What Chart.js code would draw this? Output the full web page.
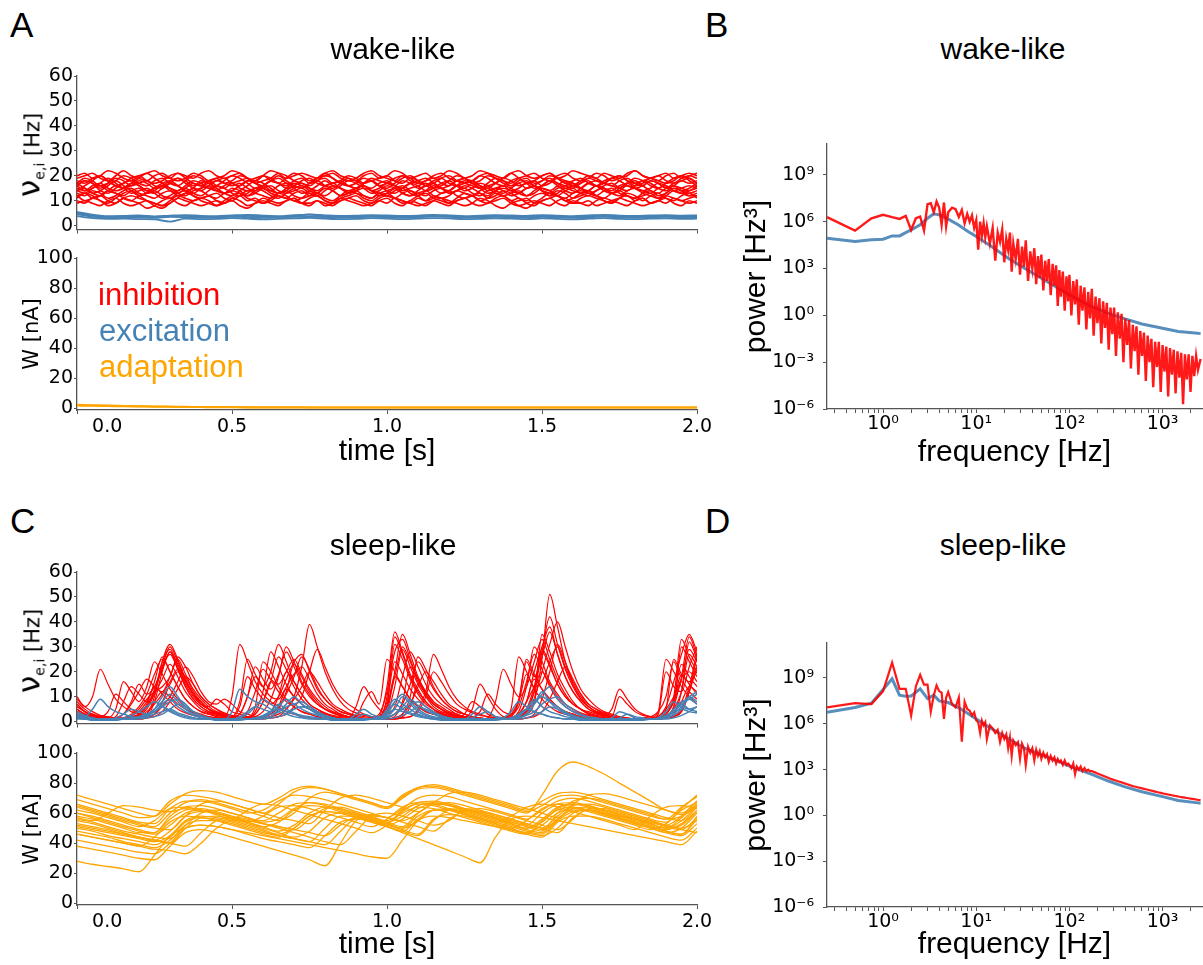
<!DOCTYPE html>
<html>
<head>
<meta charset="utf-8">
<script src="https://cdn.jsdelivr.net/npm/chart.js@4.4.1/dist/chart.umd.min.js"></script>
<style>
  body { margin: 0; background: #fff; }
  #fig { position: relative; width: 1203px; height: 965px; overflow: hidden; background: #fff;
         font-family: "Liberation Sans", Arial, sans-serif; color: #000; }
  canvas { position: absolute; }
  .txt { position: absolute; white-space: nowrap; font-size: 30px; line-height: 36px; }
  .leg { font-size: 31px; }
  .mid { transform: translateX(-50%); }
  .letter { position: absolute; font-size: 35px; line-height: 42px; }
  .ylab { position: absolute; white-space: nowrap; font-family: "DejaVu Sans"; font-size: 21px; line-height: 36px;
          transform: translate(-50%, -50%) rotate(-90deg); }
</style>
</head>
<body>
<div id="fig">
  <canvas id="rateWake" width="715" height="182" style="left:0;top:60px"></canvas>
  <canvas id="adaptWake" width="715" height="230" style="left:0;top:240px"></canvas>
  <canvas id="psdWake" width="491" height="351" style="left:712px;top:120px"></canvas>
  <canvas id="rateSleep" width="715" height="180" style="left:0;top:556px"></canvas>
  <canvas id="adaptSleep" width="715" height="228" style="left:0;top:735px"></canvas>
  <canvas id="psdSleep" width="491" height="343" style="left:712px;top:620px"></canvas>

  <div class="letter" style="left:10px;top:4px">A</div>
  <div class="letter" style="left:705px;top:4px">B</div>
  <div class="letter" style="left:10px;top:500px">C</div>
  <div class="letter" style="left:705px;top:500px">D</div>
  <div class="txt mid" style="left:393px;top:31px">wake-like</div>
  <div class="txt mid" style="left:1003px;top:31px">wake-like</div>
  <div class="txt mid" style="left:393px;top:527px">sleep-like</div>
  <div class="txt mid" style="left:1003px;top:527px">sleep-like</div>
  <div class="ylab" style="left:34px;top:155px"><span style="font-size:31px">ν</span><sub style="font-size:14px">e,i</sub> [Hz]</div>
  <div class="ylab" style="left:34px;top:651px"><span style="font-size:31px">ν</span><sub style="font-size:14px">e,i</sub> [Hz]</div>
  <div class="txt leg" style="left:98px;top:277px;color:#ff0000">inhibition</div>
  <div class="txt leg" style="left:99px;top:313px;color:#4682b4">excitation</div>
  <div class="txt leg" style="left:99px;top:349px;color:#ffa500">adaptation</div>
</div>
<script>
// time grids (s)
const times = [0,0.025,0.05,0.075,0.1,0.125,0.15,0.175,0.2,0.225,0.25,0.275,0.3,0.325,0.35,0.375,0.4,0.425,0.45,0.475,
  0.5,0.525,0.55,0.575,0.6,0.625,0.65,0.675,0.7,0.725,0.75,0.775,0.8,0.825,0.85,0.875,0.9,0.925,0.95,0.975,
  1,1.025,1.05,1.075,1.1,1.125,1.15,1.175,1.2,1.225,1.25,1.275,1.3,1.325,1.35,1.375,1.4,1.425,1.45,1.475,
  1.5,1.525,1.55,1.575,1.6,1.625,1.65,1.675,1.7,1.725,1.75,1.775,1.8,1.825,1.85,1.875,1.9,1.925,1.95,1.975,2];
const timesCoarse = [0,0.05,0.1,0.15,0.2,0.25,0.3,0.35,0.4,0.45,0.5,0.55,0.6,0.65,0.7,0.75,0.8,0.85,0.9,0.95,
  1,1.05,1.1,1.15,1.2,1.25,1.3,1.35,1.4,1.45,1.5,1.55,1.6,1.65,1.7,1.75,1.8,1.85,1.9,1.95,2];
const timeTicks = [0, 0.5, 1, 1.5, 2];
const timeTickLabels = ['0.0', '0.5', '1.0', '1.5', '2.0'];
const rateTicks = [0, 10, 20, 30, 40, 50, 60];
const adaptTicks = [0, 20, 40, 60, 80, 100];

// wake-like: inhibitory rates (Hz), one row per neuron group
const wakeInh = [
  [19,20,21,19,18,20,22,20,19,18,20,21,19,18,19,21,20,18,19,20,22,21,19,18,20,19,17,19,21,20,18,19,20,21,19,18,19,21,22,20,19,18,20,19,17,18,20,21,19,18,19,20,22,21,19,18,17,19,20,21,19,18,20,21,19,18,19,21,20,18,19,20,22,20,19,18,20,21,19,20,21],
  [16,18,17,15,17,19,18,16,17,18,16,15,17,19,18,16,17,18,16,15,17,18,19,17,16,18,17,15,16,18,19,17,16,17,18,16,15,17,19,18,17,16,18,17,15,16,18,19,17,16,17,18,16,15,17,19,18,16,17,18,16,17,19,18,16,15,17,18,17,16,18,19,17,16,18,17,15,17,18,19,17],
  [15,14,16,17,15,14,15,17,16,14,15,16,14,13,15,17,16,15,14,16,17,15,14,15,16,14,13,15,17,16,15,14,16,17,15,14,15,16,14,15,17,16,14,15,16,17,15,13,14,16,15,17,16,14,15,16,14,15,17,16,14,13,15,16,17,15,14,16,15,14,16,17,15,14,15,17,16,14,15,16,15],
  [13,12,14,13,11,12,14,15,13,12,11,13,14,12,13,15,14,12,11,13,14,13,12,14,15,13,12,11,13,14,12,13,15,14,12,13,14,12,11,13,14,15,13,12,13,14,12,11,12,14,13,12,14,15,13,12,13,14,12,13,15,14,12,11,13,14,13,12,14,15,13,12,11,13,14,12,13,15,14,12,13],
  [12,10,11,12,10,9,11,12,11,10,9,8,10,12,11,10,11,12,10,9,11,12,10,11,9,10,12,11,10,9,11,12,10,9,10,11,12,10,9,11,12,11,10,9,11,10,12,11,9,10,11,12,10,9,11,12,10,11,9,8,10,11,12,10,9,11,12,11,10,9,11,12,10,11,9,10,12,11,10,11,12],
  [17,15,13,14,16,18,16,14,12,13,15,17,18,16,14,13,15,17,15,13,12,14,16,18,17,15,13,14,16,17,15,13,12,14,16,18,17,15,13,14,16,15,13,12,14,16,17,15,14,16,18,17,15,13,14,16,15,13,12,14,16,18,16,14,13,15,17,16,14,13,15,17,18,16,14,13,15,16,14,15,17],
  [14,16,18,20,18,16,15,17,19,21,19,17,15,14,16,18,17,15,16,18,20,19,17,15,16,18,20,18,16,15,17,19,21,19,17,16,15,17,18,16,15,17,19,20,18,16,15,16,18,20,19,17,15,16,17,19,21,19,17,15,16,18,17,15,16,18,20,19,17,16,15,17,19,18,16,15,17,19,20,18,16],
  [11,13,12,10,9,11,13,14,12,10,8,7,9,11,13,12,10,9,8,10,12,13,11,10,9,11,13,12,10,11,13,12,10,9,11,12,13,11,10,12,13,11,9,10,12,13,11,10,9,11,13,12,10,11,13,12,10,8,7,9,11,13,12,10,11,13,14,12,10,9,11,13,12,10,12,13,11,10,12,13,11],
  [18,17,19,20,18,16,17,19,20,18,17,18,20,21,19,17,16,18,19,17,18,20,19,17,18,19,21,20,18,17,16,18,19,17,18,20,19,17,18,19,20,18,17,19,18,16,17,19,20,18,17,18,20,19,17,16,18,19,17,18,20,21,19,17,18,19,17,16,18,19,20,18,17,18,19,20,18,17,19,20,19],
  [14,15,13,12,14,16,15,13,14,15,13,11,12,14,15,13,12,14,16,15,13,12,13,15,14,12,11,13,15,16,14,13,15,14,12,13,15,16,14,13,12,14,15,13,12,14,16,15,13,14,15,13,12,14,15,14,12,13,15,16,14,12,13,15,14,13,12,14,15,13,14,16,15,13,12,11,13,15,14,13,14],
  [10,9,11,10,8,9,11,10,9,7,8,10,11,9,8,10,11,10,8,9,10,8,7,9,11,10,9,10,11,9,8,10,9,8,10,11,10,9,8,10,11,9,8,10,9,8,10,11,10,9,8,9,11,10,8,7,9,10,11,9,10,11,9,8,10,9,8,10,11,10,9,8,10,11,9,10,11,9,8,10,9],
  [16,14,15,17,19,17,15,16,18,17,15,16,18,19,17,15,14,16,18,17,16,17,15,14,16,18,19,17,16,15,17,18,16,15,17,19,18,16,15,17,18,16,15,17,18,19,17,15,16,18,17,16,15,17,19,18,16,17,15,16,18,19,17,16,15,17,18,16,17,19,18,16,15,16,18,17,15,16,18,17,18],
  [14,13,15,16,14,13,12,14,15,13,14,16,15,13,12,14,15,16,14,13,15,14,12,13,15,16,14,13,14,15,13,12,14,16,15,13,14,15,14,12,13,15,16,14,13,12,14,15,13,14,16,15,13,12,14,15,14,13,15,16,14,13,12,14,15,13,14,16,15,13,12,14,15,14,13,15,16,14,13,14,15],
  [17,19,18,16,17,18,20,19,17,16,18,19,17,16,18,20,19,17,18,19,17,16,18,19,20,18,17,16,18,19,17,18,20,19,17,16,17,19,18,16,17,19,20,18,17,18,19,17,16,18,19,17,18,20,19,17,16,18,19,17,18,20,19,17,16,17,19,18,17,19,20,18,16,17,19,18,17,18,20,19,17],
  [12,13,11,12,14,13,11,10,12,13,14,12,11,13,14,12,11,12,13,11,10,12,14,13,12,11,13,14,12,11,12,13,11,10,12,14,13,12,11,13,12,11,13,14,12,10,11,13,14,12,11,12,13,11,12,14,13,11,10,12,13,12,14,13,11,12,13,12,11,13,14,12,11,12,13,11,12,14,13,12,12],
  [16,18,17,14,13,15,17,18,16,14,13,15,17,16,14,15,18,17,15,13,14,16,18,17,15,14,16,17,15,13,14,16,18,16,15,13,14,17,18,16,14,13,15,17,16,14,15,17,18,16,14,15,17,16,14,13,15,17,18,16,15,14,16,18,17,15,13,14,16,17,15,14,16,18,17,15,14,16,15,14,16],
  [20,21,19,20,22,21,19,18,20,21,22,20,19,21,20,19,21,22,20,19,20,21,19,18,20,22,21,19,20,21,20,19,21,22,20,19,18,20,21,19,20,22,21,19,20,21,19,20,22,21,19,18,20,21,20,19,21,22,20,19,20,21,19,20,22,21,20,19,21,20,19,21,22,20,19,20,21,19,20,21,20],
  [9,10,9,8,10,11,9,8,9,10,9,8,9,11,10,9,8,9,10,9,11,10,8,9,10,9,8,10,11,9,9,10,8,9,11,10,9,8,9,10,9,11,10,9,8,9,10,9,8,10,11,9,8,9,10,11,9,8,9,10,9,8,10,11,9,9,10,8,9,10,11,10,9,8,9,10,9,11,10,9,10]
];
// wake-like: excitatory rates (Hz), coarse grid
const wakeExc = [
  [5.5,4.4,3.8,3.9,4.1,3.7,4.0,4.2,3.9,3.8,4.1,4.3,4.0,3.8,4.2,4.4,4.1,3.9,4.0,4.2,4.1,3.9,4.0,4.3,4.1,3.8,4.0,4.2,4.1,3.9,4.2,4.0,3.8,4.1,4.3,4.0,3.9,4.1,4.2,4.0,4.1],
  [4.5,3.6,3.2,3.4,3.3,3.1,3.5,3.4,3.2,3.3,3.6,3.4,3.1,3.3,3.5,3.7,3.4,3.2,3.3,3.6,3.4,3.2,3.4,3.7,3.5,3.2,3.3,3.5,3.4,3.2,3.5,3.3,3.1,3.4,3.6,3.3,3.2,3.4,3.5,3.3,3.4],
  [3.8,3.0,2.7,2.8,2.6,2.5,1.6,2.8,2.6,2.7,3.0,2.8,2.5,2.7,2.9,3.1,2.8,2.6,2.7,3.0,2.8,2.6,2.8,3.0,2.9,2.6,2.7,2.9,2.8,2.6,2.9,2.7,2.5,2.8,3.0,2.7,2.6,2.8,2.9,2.7,2.8],
  [5.0,4.0,3.5,3.6,3.7,3.4,3.8,3.9,3.6,3.5,3.7,3.9,3.6,3.5,3.8,4.5,3.8,3.6,3.7,3.9,3.8,3.5,3.7,3.9,3.8,3.5,3.6,3.9,3.8,3.5,3.8,3.7,3.4,3.7,3.9,3.6,3.5,3.7,3.8,3.6,3.7]
];
// wake-like: adaptation W (nA), coarse grid
const wakeAdapt = [
  [2.2,1.9,1.6,1.4,1.2,1.0,0.9,0.8,0.7,0.6,0.6,0.5,0.5,0.5,0.5,0.4,0.4,0.4,0.4,0.4,0.4,0.4,0.4,0.4,0.4,0.4,0.4,0.4,0.4,0.4,0.4,0.4,0.4,0.4,0.4,0.4,0.4,0.4,0.4,0.4,0.4],
  [1.6,1.5,1.3,1.1,1.0,0.9,0.8,0.7,0.6,0.5,0.5,0.4,0.4,0.3,0.3,0.3,0.3,0.3,0.3,0.3,0.3,0.3,0.3,0.3,0.3,0.3,0.3,0.3,0.3,0.3,0.3,0.3,0.3,0.3,0.3,0.3,0.3,0.3,0.3,0.3,0.3]
];

// sleep-like: inhibitory rates (Hz)
const sleepInh = [
  [8,5,3,2,1.5,1,1,1,1.5,3,10,24,31,25,17,11,7,5,3,2,1.5,1,1,1,2,4,10,20,16,11,7,5,3,2,1.5,1,1,1,1,2,14,36,28,19,13,8,5,3,2,1.5,1,1,1,1,1,1,1.5,2,4,8,25,51,38,24,15,9,6,4,2.5,2,1.5,1,1,1,1,1,2,6,30,24,18],
  [10,6,10,21,15,9,6,4,3,2,8,20,28,21,14,9,6,4,3,2,10,31,24,16,11,8,6,4,3,2,1.5,1,1,1,1,1,1,1,1.5,2,6,18,30,24,16,11,7,5,3,2,1.5,1,1,1,1,1,1.5,2,3,8,35,28,19,13,8,5,4,3,2,1.5,1,1,1,1,1,1,1.5,2,4,12,22],
  [6,4,2.5,2,1.5,1,1,2,5,9,12,14,18,26,22,15,10,7,5,3,2,1.5,1,1,1,1.5,2,5,10,22,39,30,20,13,8,5,3.5,2.5,2,1.5,1,1.5,3,10,26,21,14,9,6,4,3,2,1.5,1,1,1,1.5,4,14,30,24,16,11,7,5,3,2,1.5,1,1,1,1,1,1,1.5,4,25,20,14,10,7],
  [5,3,2,1.5,1,2,8,14,11,8,12,24,29,22,15,10,7,6,9,7,4,3,2,6,24,20,14,9,6,4,3,2,1.5,1,1,1,1,1,1.5,3,12,28,33,25,17,11,7,5,3,2,1.5,5,15,10,5,2,1.5,2,5,14,28,22,15,10,7,5,3,2,1.5,1,1,1,1,1,1,1.5,2,5,12,27,22],
  [7,4,2.5,2,1.5,5,16,12,8,14,24,19,13,9,6,4,3,2,1.5,1,1,1,1.5,3,8,16,26,21,14,9,6,4,3,2,1.5,1,6,14,9,5,3,6,18,28,22,15,10,7,5,3,2,1.5,1,1,1,1,1.5,3,8,20,30,38,27,18,12,8,5,3.5,2.5,5,13,9,5,3,2,1.5,2,6,18,34,26],
  [4,2.5,2,1.5,1,1,1,1,2,4,7,11,16,21,18,12,8,5,3.5,2.5,2,3,10,18,14,10,9,14,19,22,17,11,7,5,3,2,1.5,1,1,1,1,1.5,3,7,14,20,16,11,7,5,3,2,1.5,1,1,1.5,5,26,20,13,9,6,4,3,2,1.5,1,1,1,1,1,1,1,1.5,2,4,10,24,18,20,16],
  [3,2,1.5,1,1,1.5,3,7,12,17,14,12,18,25,19,13,9,6,4,3,2,1.5,1.5,4,12,28,22,15,10,7,5,3.5,2.5,2,1.5,1,1,1,1,1.5,8,24,19,13,9,6,4,3,2,1.5,1,1,1,1.5,8,21,15,10,14,24,33,25,17,11,7,5,3.5,2.5,2,1.5,1,1,1,1,1,3,20,14,12,22,30],
  [2,1.5,1,1,1,1,1,1,1.5,3,8,12,10,7,5,3.5,2.5,2,1.5,1,1,1,1,1.5,2,3,6,13,10,7,5,3.5,2.5,2,1.5,1,1,1,1,1,1,1.5,2,6,15,12,8,6,4,3,2,1.5,1,1,1,1,1.5,3,8,17,13,9,6,4,3,2,1.5,1,1,1,1,1,1,1,1,1.5,2,4,8,14,12],
  [9,6,4,2.5,2,1.5,1.5,2,3,6,12,22,30,24,17,11,8,5,3.5,2.5,2,8,25,19,14,20,31,24,16,11,7,5,3.5,2.5,2,1.5,1,1,1,1.5,4,20,35,27,18,12,8,5,3.5,2.5,2,1.5,1,1,1,1,1.5,2,5,12,28,42,31,21,14,9,6,4,3,2,1.5,1,1,1,1,1.5,3,10,33,26,20],
  [5,3,2,1.5,1,1,1,1,1.5,2,3,6,10,16,22,18,12,8,7,9,7,4,3,2,1.5,1.5,2,3,6,10,20,29,22,15,10,7,5,3,2,1.5,1,1,1.5,2,5,12,27,21,14,9,6,4,3,2,1.5,1,1,1,1.5,3,9,20,31,24,16,11,7,5,3,2,1.5,1,1,1,1,1,1.5,2,5,14,28],
  [4,2.5,2,1.5,1,1.5,3,8,15,11,14,22,27,21,14,9,6,4,3,2,1.5,1.5,4,12,21,17,15,20,25,19,13,9,6,4,3,2,1.5,1,1,1,6,31,25,17,11,7,5,3,2,1.5,3,8,6,3,2,1.5,2,8,24,18,26,36,27,18,12,8,5,3.5,2.5,2,1.5,1,1,1,1,1.5,5,25,19,16,20],
  [3,2,1.5,1,1,1,1,1,1,1.5,3,8,15,20,16,11,7,5,3.5,2.5,2,1.5,1,1,1.5,2,5,12,23,18,12,8,5,3.5,2.5,2,1.5,1,1,1,1,2,8,22,17,11,7,5,3.5,2.5,2,1.5,1,1,1,1,1,1.5,4,12,29,23,15,10,7,5,3,2,1.5,1,1,1,1,1,1,1,1.5,3,12,32,25],
  [6,4,2.5,2,4,11,8,5,4,7,16,26,20,14,9,6,4,3,2,1.5,1.5,6,18,13,9,7,10,17,24,27,20,13,9,6,4,3,2,8,12,7,25,20,14,9,6,4,3,2,1.5,1,1,1.5,4,11,7,4,3,8,19,14,16,24,30,22,15,10,6,4,3,2,10,7,4,2.5,2,1.5,3,9,23,18,14],
  [5,3,2,1.5,1,1,1,1.5,2.5,5,11,17,23,18,12,8,5,3.5,2.5,2,1.5,1,1,1,1.5,2,3,5,9,14,20,16,11,7,5,3.5,2.5,2,1.5,1,3,14,29,22,15,10,6,4,3,2,1.5,1,1,1,1,1.5,3,9,25,19,13,9,6,4,3,2,1.5,1,1,1,1,1,1,1,1,1.5,3,8,19,15,11],
  [2,1.5,1,1,1,1,1,1,1,1.5,2,4,8,13,18,15,10,7,5,3.5,2.5,2,1.5,1.5,2,3,6,11,18,26,21,14,9,6,4,3,2,1.5,1,1,1,1,1.5,2,4,10,20,16,11,7,5,3.5,2.5,2,1.5,1,1,1,1.5,2,4,9,16,22,17,11,7,5,3.5,2.5,2,1.5,1,1,1,1,1.5,2,4,12,26],
  [3,2,1.5,1,1,1,1.5,2.5,4,8,14,11,8,5,3.5,2.5,2,1.5,1,1,1,1,1.5,3,8,16,12,8,6,4,3,2,1.5,1,1,1,1,1,1,2,6,18,14,9,6,4,3,2,1.5,1,1,1,1,1,1,1,1.5,3,8,14,20,15,10,7,5,3.5,2.5,2,1.5,1,1,1,1,1,1,2,5,10,16,12,9],
  [7,4,3,2,1.5,1,1,1.5,3,6,13,21,28,23,16,11,7,5,3.5,2.5,2,1.5,1.5,2,4,9,18,30,24,16,11,7,5,3.5,2.5,2,1.5,1,1,1,1.5,3,7,15,24,19,13,9,6,4,3,2,1.5,1,1,1,1.5,2,4,9,20,31,40,30,20,13,9,6,4,3,2,1.5,1,1,1,1.5,3,8,17,29,24],
  [4,2.5,2,1.5,1,1,1.5,3,6,11,19,25,20,14,9,6,4,3,2,1.5,1.5,3,10,22,17,13,19,28,22,15,10,7,5,3.5,2.5,2,1.5,1,1,1.5,10,34,27,18,12,8,5,3.5,2.5,2,1.5,1,1,1,1,1.5,2.5,6,16,27,21,14,9,6,4,3,2,1.5,1,1,1,1,1,1,1,2,6,16,27,35,28]
];
// sleep-like: excitatory rates (Hz)
const sleepExc = [
  [3,2,5,9,6,4,3,2,1.5,2,5,10,14,10,6,4,2.5,1.5,1,1,4,13,10,8,7,5,4,3,2,1.5,1,1,1,1,1,1,1,1,1,1,2,5,10,7,4,2.5,1.5,1,1,1,1,1,1,1,1,1,1,1.5,3,7,12,8,5,3,2,1.5,1,1,1,1,1,1,1,1,1,1,1.5,3,6,9,7],
  [1.5,1,1,1,1,1,1,1.5,2,3,4,6,8,9,7,4,2.5,1.5,1,1,1,1,1,1.5,2,3,4,6,7,8,6,4,2.5,1.5,1,1,3,5,3,2,2,3,5,7,8,6,4,2.5,1.5,1,1,3,6,4,2,1,1,1.5,3,7,11,14,9,6,4,2.5,1.5,1,1,1,1,1,1,1,1,1,2,4,7,10,12],
  [2,1.5,1,1,1,1,1,1,1.5,2.5,4,6,4.5,3,2,1.5,1,1,1,1,1,1,1,1.5,2,4,7,5,3.5,2.5,2,1.5,1,1,1,1,1,1,1,1,3,7,5,3.5,2.5,1.5,1,1,1,1,1,1,1,1,1,1,1.5,2.5,5,9,6,4,3,2,1.5,1,1,1,1,1,1,1,1,1,1,1,2,4,7,5,4],
  [3,2,1.5,1,1,1,1,1.5,2,3,5,8,11,8,5,3,2,1.5,1,1,1,1,1,1,1.5,2,4,7,10,7,5,3,2,1.5,1,1,1,1,1,1,1.5,3,6,9,6.5,4.5,3,2,1.5,1,1,1,1,1,1,1,1,1.5,2.5,4,7,9,10,7,5,3,2,1.5,1,1,1,1,1,1,1,1,1.5,2.5,5,10,8],
  [1,1,0.5,0.5,0.5,0.5,1,1,1.5,2,3,4,5,3.5,2.5,1.5,1,1,0.5,0.5,0.5,0.5,1,1.5,2.5,4,5,4,3,2,1.5,1,1,0.5,0.5,0.5,0.5,0.5,1,1.5,3,5,4,3,2,1.5,1,0.5,0.5,0.5,0.5,0.5,0.5,0.5,0.5,1,1.5,3,5,4,3,2,1.5,1,1,0.5,0.5,0.5,0.5,0.5,0.5,0.5,0.5,0.5,1,1.5,2.5,4,5,4,3.5],
  [2.5,1.5,1,1,1,1,1.5,2.5,4,6,8,6,4,2.5,1.5,1,1,1,1,1,1,1.5,3,6,9,7,5,4,5,6,6,4,2.5,1.5,1,1,1,1,1,1,4,8,11,8,5,3,2,1.5,1,1,1,1,1,1,1,1.5,4,8,6,4,3,2,1.5,1,1,1,1,1,1,1.5,4,3,1.5,1,1,1.5,4,8,6,5,6],
  [1.5,1,1,1,1,1,1,1,1,1.5,2,3,5,7,6,4,2.5,1.5,1,1,1,1,1,1,1,1.5,2,3,5,6,5,3.5,2.5,1.5,1,1,1,1,1,1,1,1.5,2.5,4,6,5,3.5,2,1.5,1,1,1,1,1,1,1,1,1,1.5,2.5,4,6,5,3.5,2.5,1.5,1,1,1,1,1,1,1,1,1,1,1,1.5,2.5,4,6],
  [4,2.5,1.5,1,1,1.5,3,5,4,3,4,7,9,6,4,2.5,1.5,1,1,1,1,2,4,6,5,4,6,9,7,5,3.5,2.5,1.5,1,1,1,1.5,3,2,1.5,5,9,7,5,3,2,1.5,1,1,1,1,1.5,3,4,2,1.5,1,2,5,8,10,8,6,4,2.5,1.5,1,1,1,1,1.5,3,2,1.5,1,1,2,5,8,9,11]
];
// sleep-like: adaptation W (nA), coarse grid
const sleepAdapt = [
  [60,58,55,52,49,47,56,62,63,61,58,56,53,51,49,56,63,64,61,58,55,60,64,63,60,57,54,51,48,46,55,62,64,62,59,56,53,50,47,45,53],
  [72,69,66,63,60,58,66,73,75,74,71,68,66,70,76,78,76,73,70,67,64,71,77,79,77,74,71,68,65,62,68,73,74,72,69,66,63,60,57,55,64],
  [28,26,24.5,23,21,32,45,50,52,51,49,47,45,43,41,39,37,35,33,31,30,42,55,58,57,55,53,51,49,47,45,50,60,62,60,58,56,54,52,50,55],
  [38,36,34,32,30,29,38,47,49,47,44,41,38,35,32,29,25,40,55,58,57,55,60,66,66,63,60,57,54,51,48,60,68,70,68,65,62,59,56,58,66],
  [52,50,48,46,44,42,40,38,47,55,57,55,53,51,49,47,45,52,57,55,51,47,43,39,35,31,27,44,56,58,57,55,53,51,49,47,45,43,41,39,48],
  [65,62,59,56,53,51,60,67,69,67,64,61,58,55,60,70,74,72,69,66,63,70,76,77,75,72,69,66,63,60,72,88,94,91,86,80,74,68,62,60,68],
  [66,63,60,57,54,53,63,68,68,66,63,60,62,68,72,71,69,66,63,60,57,63,70,72,71,68,65,62,59,56,62,68,70,68,65,62,59,56,54,63,72],
  [55,53,50,47,44,42,48,58,61,60,57,54,51,48,52,60,64,63,60,57,54,58,65,67,65,62,59,56,53,50,56,64,66,64,61,58,55,52,49,53,62],
  [48,46,44,41,39,37,42,52,55,55,53,50,47,45,43,41,50,58,58,56,53,50,58,62,62,59,56,53,50,47,52,60,63,62,59,56,53,50,47,50,60],
  [58,56,53,50,47,47,58,64,65,63,60,57,55,60,66,67,65,62,59,56,53,61,67,68,66,63,60,57,54,52,60,66,67,65,62,59,56,53,50,57,66],
  [62,60,57,54,51,55,63,64,62,59,56,62,66,65,62,59,56,53,50,47,52,62,66,65,62,59,56,53,50,55,63,66,64,61,58,55,52,49,53,62,67],
  [53,51,49,46,44,42,40,50,57,58,56,53,50,47,44,48,57,60,59,56,53,50,55,62,63,61,58,55,52,49,47,56,62,62,60,57,54,51,48,46,56],
  [69,66,63,60,57,58,68,72,71,69,66,63,60,66,74,77,76,73,70,67,64,72,77,78,76,73,70,67,64,61,65,71,72,70,67,64,61,58,56,64,71],
  [42,40,38,36,34,33,40,50,52,51,49,46,43,41,39,37,45,54,56,55,52,49,46,56,59,58,55,52,49,46,44,54,58,58,56,53,50,47,44,42,50],
  [57,55,60,65,64,62,61,63,62,60,57,54,58,64,65,63,60,57,54,51,56,64,67,66,63,60,57,54,58,64,66,64,61,58,55,52,49,58,64,65,63],
  [46,44,42,40,38,36,35,33,40,50,55,55,53,50,47,44,41,39,48,58,60,58,55,52,55,62,63,61,58,55,52,49,56,63,63,61,58,55,52,49,47],
  [60,57,54,51,48,46,52,60,62,60,57,54,51,54,62,65,64,61,58,55,52,56,63,66,65,62,59,56,53,50,54,63,66,65,62,59,56,53,50,55,65],
  [51,49,47,45,43,41,45,55,58,57,55,52,49,46,50,58,61,60,57,54,51,48,56,62,62,60,57,54,51,48,46,55,61,62,60,57,54,51,48,46,58],
  [64,61,58,55,52,50,49,58,66,68,66,63,60,57,55,53,62,70,72,70,67,64,61,67,73,74,72,69,66,63,60,57,66,72,73,71,68,65,62,59,64],
  [46,44,42,40,38,44,54,58,57,55,52,49,46,44,50,58,61,60,57,54,51,48,45,55,62,63,61,58,55,52,49,56,63,64,62,59,56,53,50,52,61],
  [56,54,51,48,46,44,43,52,60,62,60,57,54,56,63,67,66,63,60,57,54,51,60,66,67,65,62,59,56,53,50,58,65,66,64,61,58,55,52,58,68],
  [50,48,45,43,41,39,44,54,57,56,54,51,48,45,43,41,39,48,57,59,57,54,51,48,56,61,61,59,56,53,50,47,57,62,62,60,57,54,51,49,57]
];

// power spectra: frequencies (Hz) and log10 power (Hz^3)
const freqs = [0.25,0.5,0.75,1,1.25,1.5,1.75,2,2.25,2.5,2.75,3,3.25,3.5,3.75,4,4.25,4.5,4.75,5,
  5.5,6,6.5,7,7.5,8,8.5,9,9.5,10,
  10.5,11,11.5,12,12.5,13,14,15,16,17,18,19,20,21,22,23,24,25,26.5,28,29.5,31,32.5,34,36,38,40,42,44,46,
  48,50,52.5,55,57.5,60,63,66,69,72,75,78,81,85,89,93,97,
  100,105,110,115,120,126,132,138,145,152,159,166,174,182,191,200,210,220,230,241,
  252,264,276,289,302,316,331,347,363,380,398,417,437,457,479,501,525,550,576,603,
  631,661,692,724,759,794,832,871,912,955,
  1000,1047,1096,1148,1202,1259,1318,1380,1445,1514,1585,1660,1738,1820,1905,1995,2089,2188,2291,2399,2560];
const wakePsdInh = [6.29,5.43,6.22,6.44,6.29,6.18,6.37,5.47,6.22,6.33,5.43,7.12,7.18,6.6,7.29,6.9,5.8,7.23,5.7,6.6,
  6.9,6.8,6.3,6.75,5.9,6.5,6.0,6.4,5.6,6.1,
  4.2,6.0,5.1,5.9,5.0,5.7,4.6,5.6,3.5,5.3,4.7,5.5,3.4,4.9,4.2,5.3,2.8,4.6,3.6,4.9,2.6,4.4,3.1,4.8,2.2,4.1,3.0,4.3,2.0,3.8,
  2.4,3.9,1.6,3.5,2.2,3.6,1.3,3.3,1.9,3.2,0.6,2.9,1.2,2.8,0.3,2.5,0.9,
  2.6,0.0,2.2,0.7,2.3,-0.6,1.9,0.3,1.8,-0.9,1.5,-0.2,1.7,-1.3,1.2,-0.5,1.1,-1.8,0.9,-0.8,
  0.8,-2.2,0.5,-1.2,0.5,-2.6,0.2,-1.5,0.1,-3.0,-0.2,-1.9,-0.3,-3.4,-0.6,-2.3,-0.7,-3.8,-1.0,-2.6,
  -1.1,-4.2,-1.3,-3.0,-1.5,-4.6,-1.7,-3.3,-1.7,-4.9,
  -1.9,-3.6,-2.0,-5.2,-2.1,-3.8,-2.2,-5.0,-2.3,-4.0,-2.4,-5.7,-2.5,-4.1,-2.5,-4.9,-2.6,-3.9,-2.6,-3.5,-2.8];
const sleepPsdInh = [7.07,7.35,7.29,8.14,10.0,8.29,8.29,6.54,8.46,9.21,8.57,8.57,6.8,7.87,8.51,8.14,8.04,6.32,7.72,8.08,
  7.29,7.07,7.72,4.82,7.44,6.97,6.86,6.54,6.75,6.22,
  6.1,5.4,6.2,5.9,6.1,5.0,5.9,5.7,5.4,5.6,4.8,5.4,5.0,5.3,4.4,5.1,3.9,4.9,4.6,4.8,3.7,4.7,4.4,3.3,4.5,4.1,4.4,3.6,4.3,3.9,
  4.2,3.7,4.1,3.8,4.0,3.5,3.9,3.6,3.8,3.4,3.7,3.5,3.6,3.3,3.6,3.3,3.4,
  3.3,3.1,3.4,2.7,3.2,3.0,3.2,2.9,3.1,2.9,3.0,2.9,2.9,2.85,2.8,2.75,2.7,2.65,2.6,2.55,
  2.5,2.45,2.4,2.36,2.32,2.28,2.24,2.2,2.16,2.12,2.08,2.04,2.0,1.96,1.92,1.89,1.86,1.83,1.8,1.77,
  1.74,1.71,1.68,1.65,1.62,1.59,1.56,1.53,1.5,1.47,
  1.44,1.42,1.39,1.37,1.34,1.32,1.29,1.27,1.25,1.22,1.2,1.18,1.16,1.14,1.12,1.1,1.08,1.06,1.04,1.02,1.0];
const freqsSmooth = [0.25,0.5,0.75,1,1.25,1.5,1.75,2,2.5,3,3.5,4,5,6.4,8,10,14.6,22,33,50,76,100,174,262,396,600,1000,1475,2400,2560];
const wakePsdExc = [4.94,4.73,4.85,4.88,5.09,5.09,5.3,5.47,5.8,6.22,6.5,6.44,6.16,5.8,5.4,5.05,4.41,3.66,3.02,2.38,1.74,1.31,0.56,0.13,-0.23,-0.55,-0.83,-1.04,-1.15,-1.16];
const sleepPsdExc = [6.75,7.07,7.35,8.25,8.94,7.87,7.8,7.82,8.29,7.65,7.87,7.5,7.39,7.07,6.7,6.32,5.68,5.04,4.4,3.97,3.54,3.22,2.68,2.25,1.87,1.55,1.23,0.97,0.82,0.8];
const freqTickValues = [1, 10, 100, 1000];
const freqTickLabels = ['10⁰', '10¹', '10²', '10³'];
const powerTickValues = [1e-6, 1e-3, 1, 1e3, 1e6, 1e9];
const powerTickLabels = ['10⁻⁶', '10⁻³', '10⁰', '10³', '10⁶', '10⁹'];

const RED = '#ff0000', BLUE = '#4682b4', ORANGE = '#ffa500', AXIS = '#555555';
const TICK_FONT = { family: 'DejaVu Sans', size: 19 };
const LABEL_FONT = { family: 'Liberation Sans', size: 30 };
Chart.defaults.color = '#000';

// minor log ticks like matplotlib (2..9 per decade)
const freqMarks = [];
[0.1, 1, 10, 100, 1000].forEach(d => {
  for (let m = 1; m <= 9; m++) { const v = m * d; if (v >= 0.25 && v <= 2650) freqMarks.push(v); }
});

function traceSets(traces, t, color, width) {
  return traces.map(tr => ({
    data: tr.map((v, i) => ({ x: t[i], y: v })),
    borderColor: color, borderWidth: width, pointRadius: 0, fill: false,
    cubicInterpolationMode: 'monotone'
  }));
}

function psdSet(f, logPower, color, width) {
  return {
    data: logPower.map((v, i) => ({ x: f[i], y: Math.pow(10, v) })),
    borderColor: color, borderWidth: width, pointRadius: 0, fill: false, tension: 0
  };
}

function baseOptions(padding) {
  return {
    responsive: false, animation: false, events: [],
    layout: { padding },
    plugins: { legend: { display: false }, tooltip: { enabled: false } }
  };
}

function axisLook(tickLength) {
  return {
    grid: { drawOnChartArea: false, drawTicks: true, tickLength, color: AXIS, tickColor: AXIS },
    border: { display: true, color: AXIS, width: 1.3 }
  };
}

function timeChart(id, datasets, p) {
  const opts = baseOptions(p.padding);
  opts.scales = {
    x: Object.assign({
      type: 'linear', min: 0, max: 2,
      afterBuildTicks: s => { s.ticks = timeTicks.map(v => ({ value: v })); },
      afterFit: s => { s.height = p.xHeight; },
      ticks: { display: p.showTime, autoSkip: false, maxRotation: 0, padding: 2, font: TICK_FONT,
               callback: (v, i) => (i === 0 ? '          ' : '') + timeTickLabels[i] },
      title: { display: p.showTime, text: 'time [s]', font: LABEL_FONT, padding: 0 }
    }, axisLook(4)),
    y: Object.assign({
      type: 'linear', min: p.yMin, max: p.yMax,
      afterBuildTicks: s => { s.ticks = p.yTicks.map(v => ({ value: v })); },
      afterFit: s => { s.width = p.yWidth; },
      ticks: { autoSkip: false, padding: 1, font: TICK_FONT, callback: v => String(v) },
      title: { display: !!p.yTitle, text: p.yTitle || '', font: { family: 'DejaVu Sans', size: 21 }, padding: 0 }
    }, axisLook(3))
  };
  new Chart(document.getElementById(id), { type: 'line', data: { datasets }, options: opts });
}

function psdChart(id, datasets, p) {
  const opts = baseOptions(p.padding);
  opts.scales = {
    x: Object.assign({
      type: 'logarithmic', min: 0.25, max: 2650,
      afterBuildTicks: s => { s.ticks = freqMarks.map(v => ({ value: v })); },
      afterFit: s => { s.height = p.xHeight; },
      ticks: { autoSkip: false, maxRotation: 0, padding: 0, font: TICK_FONT,
               callback: v => { const k = freqTickValues.indexOf(v); return k < 0 ? '' : freqTickLabels[k]; } },
      title: { display: true, text: 'frequency [Hz]', font: LABEL_FONT, padding: 0 }
    }, axisLook(4)),
    y: Object.assign({
      type: 'logarithmic', min: 1e-6, max: p.yMax,
      afterBuildTicks: s => { s.ticks = powerTickValues.map(v => ({ value: v })); },
      afterFit: s => { s.width = p.yWidth; },
      ticks: { autoSkip: false, padding: 9, font: TICK_FONT,
               callback: v => { const k = powerTickValues.indexOf(v); return k < 0 ? '' : powerTickLabels[k]; } },
      title: { display: true, text: 'power [Hz³]', font: LABEL_FONT, padding: 0 }
    }, axisLook(4))
  };
  new Chart(document.getElementById(id), { type: 'line', data: { datasets }, options: opts });
}

// A: wake-like time series
timeChart('rateWake',
  traceSets(wakeExc, timesCoarse, BLUE, 1.9).concat(traceSets(wakeInh, times, RED, 1.6)),
  { padding: { left: 0, top: 16, right: 18, bottom: 0 }, xHeight: 12, yWidth: 77,
    yMin: -1.6, yMax: 60, yTicks: rateTicks, showTime: false });
timeChart('adaptWake',
  traceSets(wakeAdapt, timesCoarse, ORANGE, 2),
  { padding: { left: 20, top: 18, right: 18, bottom: 0 }, xHeight: 60, yWidth: 57,
    yMin: -1.33, yMax: 100, yTicks: adaptTicks, showTime: true, yTitle: 'W [nA]' });

// C: sleep-like time series
timeChart('rateSleep',
  traceSets(sleepExc, times, BLUE, 1.5).concat(traceSets(sleepInh, times, RED, 1.2)),
  { padding: { left: 0, top: 16, right: 18, bottom: 0 }, xHeight: 12, yWidth: 77,
    yMin: -0.8, yMax: 60, yTicks: rateTicks, showTime: false });
timeChart('adaptSleep',
  traceSets(sleepAdapt, timesCoarse, ORANGE, 1.3),
  { padding: { left: 20, top: 18, right: 18, bottom: 0 }, xHeight: 58, yWidth: 57,
    yMin: -1.1, yMax: 100, yTicks: adaptTicks, showTime: true, yTitle: 'W [nA]' });

// B, D: power spectra
psdChart('psdWake',
  [psdSet(freqs, wakePsdInh, 'rgba(255,0,0,0.9)', 2.4), psdSet(freqsSmooth, wakePsdExc, 'rgba(70,130,180,0.9)', 3)],
  { padding: { left: 27, top: 24, right: 1, bottom: 0 }, xHeight: 62, yWidth: 88, yMax: 9.5e10 });
psdChart('psdSleep',
  [psdSet(freqs, sleepPsdInh, 'rgba(255,0,0,0.9)', 2.2), psdSet(freqsSmooth, sleepPsdExc, 'rgba(70,130,180,0.9)', 3)],
  { padding: { left: 27, top: 23, right: 1, bottom: 0 }, xHeight: 56, yWidth: 88, yMax: 1.95e11 });
</script>
</body>
</html>
